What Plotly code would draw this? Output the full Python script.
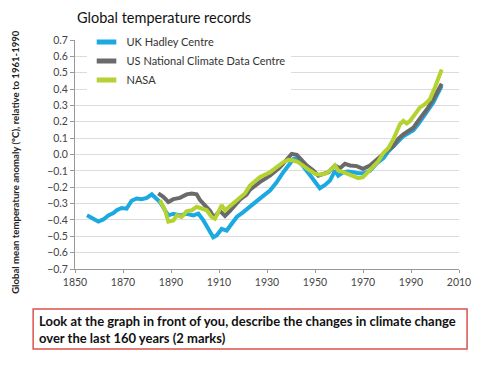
import plotly.graph_objects as go

# ---- data ----
uk_years = [1855, 1857, 1859.7, 1861.8, 1863.9, 1866, 1867.4, 1869.4, 1871.5, 1873.6, 1875.7, 1877.8,
            1879.9, 1882, 1883.3, 1885.4, 1887.5, 1888.9, 1891, 1893.7, 1896.5, 1899.3, 1901.4, 1903.5,
            1905.6, 1907.6, 1909, 1911.1, 1913.2, 1915.3, 1917.4, 1920.1, 1922.5, 1927, 1931.25, 1934,
            1936.8, 1938.9, 1941, 1942.4, 1944.4, 1946.5, 1948.6, 1950.7, 1952, 1954.2, 1956.25, 1958.3,
            1959.7, 1961.8, 1963.8, 1965.9, 1968, 1970, 1972.9, 1975.7, 1978.5, 1980.6, 1982.6, 1984.7,
            1986.8, 1988.9, 1991, 1993, 1995.1, 1997.2, 1999.3, 2001.4, 2002.8]
uk_values = [-0.372, -0.389, -0.41, -0.397, -0.372, -0.358, -0.341, -0.327, -0.331, -0.283, -0.269, -0.273,
             -0.265, -0.244, -0.259, -0.29, -0.341, -0.372, -0.362, -0.372, -0.362, -0.372, -0.362, -0.403,
             -0.455, -0.506, -0.495, -0.455, -0.465, -0.424, -0.382, -0.352, -0.321, -0.27, -0.22, -0.17,
             -0.108, -0.067, -0.027, -0.022, -0.057, -0.098, -0.139, -0.18, -0.206, -0.186, -0.159, -0.098,
             -0.129, -0.108, -0.104, -0.108, -0.115, -0.115, -0.1, -0.055, -0.022, 0.02, 0.046, 0.081,
             0.112, 0.129, 0.149, 0.185, 0.226, 0.267, 0.318, 0.38, 0.42]

us_years = [1884.7, 1886.8, 1888.9, 1891, 1893.7, 1896.5, 1898.6, 1900.7, 1902.1, 1904.2, 1906.3, 1908,
            1909, 1910.4, 1912.5, 1914.6, 1916.7, 1918.8, 1921.5, 1922.9, 1927, 1931.25, 1935.4, 1938.2,
            1940.3, 1942.4, 1944.4, 1946.5, 1949.3, 1951.4, 1953.5, 1955.6, 1958.3, 1960.4, 1962.5, 1964.6,
            1967.4, 1970, 1972.9, 1975.7, 1978.5, 1980.6, 1982.6, 1984.7, 1986.8, 1988.9, 1991, 1993,
            1995.1, 1997.2, 1999.3, 2001.4, 2002.8]
us_values = [-0.238, -0.259, -0.29, -0.273, -0.265, -0.244, -0.238, -0.244, -0.279, -0.31, -0.345, -0.39,
             -0.365, -0.345, -0.375, -0.345, -0.31, -0.275, -0.245, -0.215, -0.169, -0.129, -0.078, -0.027,
             0.004, -0.002, -0.037, -0.067, -0.098, -0.129, -0.118, -0.108, -0.067, -0.084, -0.057, -0.067,
             -0.071, -0.088, -0.067, -0.03, 0.0, 0.03, 0.05, 0.096, 0.123, 0.143, 0.164, 0.205,
             0.246, 0.288, 0.339, 0.39, 0.432]

nasa_years = [1885.4, 1887.5, 1888.9, 1891, 1892.4, 1894.4, 1896.5, 1898.6, 1900.7, 1902.8, 1904.9, 1906.9,
              1908.3, 1909.7, 1911.1, 1912.5, 1914.6, 1916.7, 1918.8, 1920.8, 1922.9, 1927, 1931.25, 1934,
              1936.8, 1938.9, 1941, 1943, 1945.1, 1947.9, 1950, 1952, 1954.2, 1956.25, 1958.3, 1959.7,
              1961.8, 1963.8, 1965.9, 1968, 1970, 1972.1, 1974.2, 1976.4, 1978.5, 1980.6, 1982.6, 1984,
              1985.4, 1986.8, 1988.2, 1989.6, 1991.7, 1993.75, 1995.8, 1997.9, 2000, 2001.4, 2002.8]
nasa_values = [-0.279, -0.341, -0.41, -0.403, -0.372, -0.382, -0.348, -0.341, -0.32, -0.331, -0.341, -0.382,
               -0.393, -0.352, -0.31, -0.341, -0.315, -0.29, -0.259, -0.238, -0.19, -0.139, -0.108, -0.078,
               -0.047, -0.033, -0.037, -0.047, -0.071, -0.098, -0.118, -0.124, -0.118, -0.098, -0.067, -0.098,
               -0.108, -0.118, -0.129, -0.145, -0.139, -0.108, -0.07, -0.04, 0.009, 0.04, 0.092, 0.143,
               0.185, 0.205, 0.19, 0.205, 0.246, 0.288, 0.308, 0.339, 0.411, 0.473, 0.52]

series_names = ["UK Hadley Centre", "US National Climate Data Centre", "NASA"]
series_colors = ["#1CA9E1", "#6A6A6B", "#B4D332"]

x_ticks = [1850, 1870, 1890, 1910, 1930, 1950, 1970, 1990, 2010]
y_ticks = [0.7, 0.6, 0.5, 0.4, 0.3, 0.2, 0.1, 0.0, -0.1, -0.2, -0.3, -0.4, -0.5, -0.6, -0.7]

title_text = "Global temperature records"
y_title = "Global mean temperature anomaly (°C), relative to 1961-1990"
question = ("Look at the graph in front of you, describe the changes in climate change<br>"
            "over the last 160 years (2 marks)")

fig = go.Figure()
for xs, ys, name, col in zip([uk_years, us_years, nasa_years],
                             [uk_values, us_values, nasa_values],
                             series_names, series_colors):
    fig.add_trace(go.Scatter(x=xs, y=ys, mode="lines", name=name, showlegend=False,
                             line=dict(color=col, width=4), hoverinfo="skip"))
# legend swatches
for name, col in zip(series_names, series_colors):
    fig.add_trace(go.Scatter(x=[None], y=[None], mode="markers", name=name,
                             marker=dict(symbol="line-ew", size=14,
                                         line=dict(color=col, width=5))))

tick_font = dict(family="Lato", size=10.5, color="#444")
fig.update_layout(
    width=492, height=367,
    margin=dict(l=67, r=41, t=32, b=106, autoexpand=False),
    paper_bgcolor="white", plot_bgcolor="white",
    showlegend=True,
    legend=dict(x=0.03, y=1.055, xanchor="left", yanchor="top",
                bgcolor="white", font=dict(family="Lato", size=11, color="#333"),
                tracegroupgap=0, itemwidth=30),
    xaxis=dict(range=[1850, 2010], tickvals=x_ticks, ticks="outside", ticklen=3,
               tickcolor="#999", showline=True, linecolor="#999", linewidth=1,
               showgrid=False, zeroline=False, tickfont=tick_font),
    yaxis=dict(range=[-0.7, 0.7], tickvals=y_ticks, tickformat=".1f", ticks="outside",
               ticklen=4, tickcolor="#999", showline=True, linecolor="#999", linewidth=1,
               showgrid=True, gridcolor="#DCDCDC", gridwidth=1, zeroline=False,
               tickfont=tick_font),
    annotations=[
        dict(text=title_text, xref="paper", yref="paper", x=0.0, y=1.098,
             xanchor="left", yanchor="middle", showarrow=False,
             font=dict(family="Lato", size=14.5, color="#111")),
        dict(text="<b>" + y_title + "</b>", xref="paper", yref="paper", x=-0.155, y=0.47,
             xanchor="center", yanchor="middle", textangle=-90, showarrow=False,
             font=dict(family="Lato", size=9.6, color="#222")),
        dict(text="<b>" + question + "</b>", xref="paper", yref="paper", x=-0.1, y=-0.264,
             xanchor="left", yanchor="middle", align="left", showarrow=False,
             font=dict(family="Lato", size=13, color="#111")),
    ],
    shapes=[
        dict(type="rect", xref="paper", yref="paper", x0=-0.109, x1=1.021, y0=-0.349, y1=-0.175,
             line=dict(color="#D9534F", width=1.5), fillcolor="rgba(0,0,0,0)"),
    ],
)

fig.write_html("out.html")
